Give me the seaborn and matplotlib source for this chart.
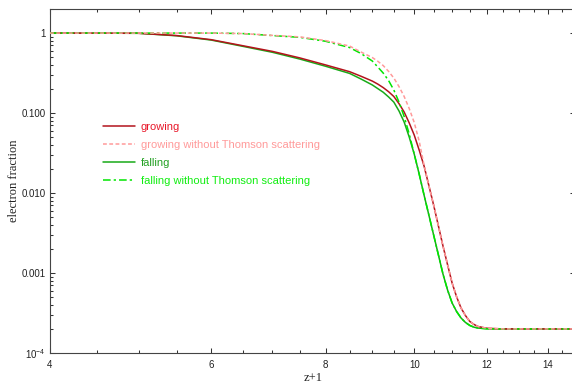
import numpy as np
import pandas as pd
import matplotlib
matplotlib.use("Agg")
import matplotlib.pyplot as plt
import matplotlib.ticker as mticker
import seaborn as sns

# ---- data ----
z_plus_1 = [4, 5, 5.5, 6, 6.5, 7, 7.5, 8, 8.5, 8.75, 9, 9.125, 9.25, 9.375, 9.5,
            9.625, 9.75, 9.875, 10, 10.125, 10.25, 10.375, 10.5, 10.625, 10.75,
            10.875, 11, 11.125, 11.25, 11.375, 11.5, 11.625, 11.75, 12, 12.5, 15]
growing = [1.0, 0.994, 0.931, 0.827, 0.694, 0.590, 0.489, 0.400, 0.329, 0.288,
           0.251, 0.230, 0.208, 0.185, 0.161, 0.131, 0.103, 0.0752, 0.0531, 0.0345,
           0.0218, 0.0124, 0.00708, 0.00392, 0.00218, 0.00127, 7.5e-4, 5.04e-4,
           3.65e-4, 2.94e-4, 2.48e-4, 2.27e-4, 2.14e-4, 2.04e-4, 2.0e-4, 2.0e-4]
growing_no_thomson = [1.0, 1.0, 1.0, 1.0, 0.986, 0.936, 0.896, 0.806, 0.688, 0.579,
                      0.494, 0.444, 0.392, 0.332, 0.274, 0.214, 0.161, 0.114, 0.0761,
                      0.0447, 0.0224, 0.0124, 0.00708, 0.00392, 0.00218, 0.00127,
                      7.5e-4, 5.04e-4, 3.65e-4, 2.94e-4, 2.48e-4, 2.27e-4, 2.14e-4,
                      2.04e-4, 2.0e-4, 2.0e-4]
falling = [1.0, 0.994, 0.925, 0.818, 0.682, 0.575, 0.473, 0.385, 0.313, 0.266,
           0.2245, 0.202, 0.182, 0.159, 0.137, 0.106, 0.0772, 0.0501, 0.0307, 0.0173,
           0.00944, 0.00531, 0.00299, 0.0017, 9.72e-4, 6.13e-4, 4.22e-4, 3.30e-4,
           2.74e-4, 2.41e-4, 2.21e-4, 2.10e-4, 2.05e-4, 2.01e-4, 2.0e-4, 2.0e-4]
falling_no_thomson = [1.0, 1.0, 1.0, 1.0, 0.986, 0.931, 0.884, 0.790, 0.659, 0.554,
                      0.447, 0.376, 0.316, 0.255, 0.194, 0.137, 0.0904, 0.0546, 0.0307,
                      0.0173, 0.00944, 0.00531, 0.00299, 0.0017, 9.72e-4, 6.13e-4,
                      4.22e-4, 3.30e-4, 2.74e-4, 2.41e-4, 2.21e-4, 2.10e-4, 2.05e-4,
                      2.01e-4, 2.0e-4, 2.0e-4]

series_labels = ["growing", "growing without Thomson scattering",
                 "falling", "falling without Thomson scattering"]
x_major_ticks = [4, 6, 8, 10, 12, 14]
y_major_ticks = [1e-4, 1e-3, 1e-2, 1e-1, 1]
y_tick_labels = [r"$\mathregular{10^{-4}}$", "0.001", "0.010", "0.100", "1"]

line_colors = ["#b3131c", "#ff9a9a", "#18aa18", "#00e600"]
text_colors = ["#e8182a", "#ff9a9a", "#22a022", "#11ee11"]
line_styles = ["-", (0, (2.5, 1.6)), "-", (0, (5, 2, 1.5, 2))]
zorders = [3, 5, 2, 4]

sns.set_style("ticks")
plt.rcParams['font.family'] = ['Liberation Sans', 'DejaVu Sans']
plt.rcParams['mathtext.fontset'] = 'custom'
plt.rcParams['mathtext.rm'] = 'Liberation Sans'
plt.rcParams['mathtext.it'] = 'Liberation Sans:italic'

fig = plt.figure(figsize=(5.72, 3.85), dpi=100)
ax = fig.add_axes([50 / 572, 32 / 385, 525.4 / 572, 344 / 385])

all_series = [growing, growing_no_thomson, falling, falling_no_thomson]
handles = []
for vals, lab, col, ls, zo in zip(all_series, series_labels, line_colors, line_styles, zorders):
    df = pd.DataFrame({"z": z_plus_1, "v": vals})
    sns.lineplot(data=df, x="z", y="v", ax=ax, color=col, linestyle=ls,
                 linewidth=1.1, estimator=None, sort=False, zorder=zo, label=lab)
    handles.append(ax.lines[-1])

ax.set_xscale("log")
ax.set_yscale("log")
ax.set_xlim(4, 15)
ax.set_ylim(1e-4, 2)

ax.xaxis.set_major_locator(mticker.FixedLocator(x_major_ticks))
ax.xaxis.set_major_formatter(mticker.FuncFormatter(lambda v, p: f"{v:g}"))
ax.xaxis.set_minor_locator(mticker.MultipleLocator(0.5))
ax.xaxis.set_minor_formatter(mticker.NullFormatter())
ax.yaxis.set_major_locator(mticker.FixedLocator(y_major_ticks))
ax.yaxis.set_major_formatter(mticker.FixedFormatter(y_tick_labels))
ax.yaxis.set_minor_locator(mticker.LogLocator(base=10, subs=np.arange(2, 10), numticks=30))
ax.yaxis.set_minor_formatter(mticker.NullFormatter())

ax.tick_params(which="both", direction="in", top=True, right=True,
               color="#333333", labelcolor="#222222", width=0.75, labelsize=7)
ax.tick_params(which="major", length=3.8)
ax.tick_params(which="minor", length=2.2)
ax.tick_params(axis="x", pad=5)
ax.tick_params(axis="y", pad=3)
for s in ax.spines.values():
    s.set_color("#444444")
    s.set_linewidth(0.8)

ax.set_xlabel("z+1", fontfamily=["Liberation Serif"], fontsize=9, labelpad=1.5, color="#222222")
ax.set_ylabel("electron fraction", fontfamily=["Liberation Serif"], fontsize=9, labelpad=1, color="#222222")

leg = ax.legend(handles=handles, labels=series_labels, frameon=False,
                loc="upper left", bbox_to_anchor=(103.3 / 572, 1 - 121.5 / 385),
                bbox_transform=fig.transFigure, borderpad=0, borderaxespad=0,
                fontsize=8.05, handlelength=2.8, handletextpad=0.55, labelspacing=0.73)
for t, c in zip(leg.get_texts(), text_colors):
    t.set_color(c)

fig.savefig("out.png", dpi=100)
